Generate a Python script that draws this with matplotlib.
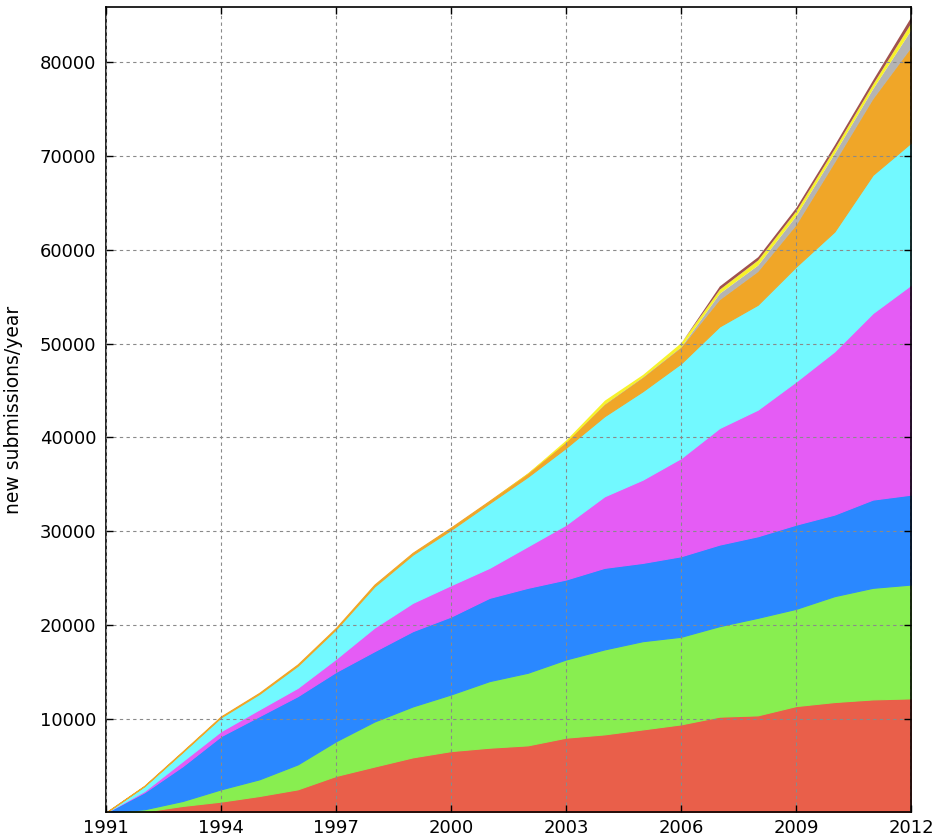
import numpy as np
import matplotlib
matplotlib.use("Agg")
import matplotlib.pyplot as plt

years = np.arange(1991, 2013)

# submissions per year, one array per stacked layer (bottom to top)
red = [0, 100, 700, 1160, 1760, 2470, 3900, 4900, 5880, 6550, 6910,
       7160, 7980, 8330, 8860, 9400, 10220, 10360, 11350, 11780, 12060, 12170]
green = [0, 240, 530, 1310, 1780, 2660, 3700, 4800, 5430, 6040, 7100,
         7740, 8340, 9060, 9410, 9340, 9650, 10400, 10370, 11290, 11900, 12140]
blue = [0, 1810, 3720, 5680, 6740, 7280, 7400, 7500, 8030, 8310, 8880,
        9060, 8530, 8700, 8350, 8590, 8700, 8700, 8980, 8700, 9410, 9590]
magenta = [0, 140, 540, 530, 720, 890, 1400, 2520, 3020, 3350, 3200,
           4430, 5850, 7630, 8880, 10470, 12430, 13500, 15270, 17400, 19890, 22380]
cyan = [0, 510, 960, 1470, 1650, 2350, 3150, 4380, 5140, 5900, 6900,
        7410, 8200, 8540, 9430, 10100, 10830, 11190, 12250, 12780, 14740, 15160]
orange = [0, 50, 80, 100, 120, 150, 150, 200, 200, 250, 250,
          350, 600, 1240, 1460, 1700, 2850, 3540, 4450, 7370, 8100, 10160]
gray = [0, 0, 0, 0, 0, 0, 0, 0, 0, 0, 0,
        0, 0, 50, 60, 80, 700, 700, 1000, 1000, 1100, 1900]
yellow = [0, 0, 0, 0, 0, 0, 0, 0, 0, 0, 0,
          80, 250, 420, 280, 450, 430, 540, 520, 500, 500, 750]
brown = [0, 0, 0, 0, 0, 0, 0, 0, 0, 0, 0,
         0, 0, 0, 0, 0, 350, 350, 370, 400, 450, 650]

layers = [red, green, blue, magenta, cyan, orange, gray, yellow, brown]
colors = ['#e95f4a', '#88ee50', '#2a88ff', '#e55cf5', '#72f9ff',
          '#f0a628', '#b4b4b4', '#f7f22a', '#a0524f']

fig = plt.figure(figsize=(9.35, 8.39), dpi=100)
ax = fig.add_axes([0.1134, 0.0316, 0.861, 0.960])

polys = ax.stackplot(years, *layers, colors=colors)
for i, p in enumerate(polys):
    p.set_edgecolor(colors[i])
    # the later categories only show up once they have data
    p.set_linewidth(0.8 if i < 6 else 0.0)

ax.set_xlim(1991, 2012)
ax.set_ylim(0, 85900)
ax.set_xticks(np.arange(1991, 2013, 3))
ax.set_yticks(np.arange(10000, 90000, 10000))
ax.set_ylabel("new submissions/year", fontsize=13.5, labelpad=12)

ax.grid(True, linestyle=(0, (3, 3)), color='#8a8a8a', linewidth=0.8)
ax.set_axisbelow(False)
ax.tick_params(direction='in', top=True, right=True, length=5,
               labelsize=13, width=1)
ax.tick_params(axis='x', pad=5)
ax.tick_params(axis='y', pad=7)
for s in ax.spines.values():
    s.set_linewidth(1.2)

fig.savefig("out.png", dpi=100)
